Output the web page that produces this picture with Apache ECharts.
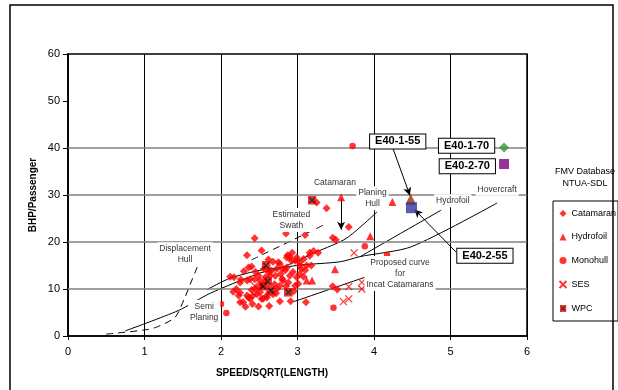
<!DOCTYPE html>
<html><head><meta charset="utf-8">
<script src="https://cdn.jsdelivr.net/npm/echarts@6/dist/echarts.min.js"></script>
<style>html,body{margin:0;padding:0;background:#fff}#c{width:618px;height:390px}</style>
</head><body><div id="c"></div>
<script>
// ---- data ----
const xTicks = [0,1,2,3,4,5,6];
const yTicks = [0,10,20,30,40,50,60];
const hGrid = [10,20,30,40];
const legendNames = ['Catamaran','Hydrofoil','Monohull','SES','WPC'];
const catamaran = [
[3.25,28.4],[3.38,27.2],[3.67,23.2],[2.85,21.8],[3.10,21.5],[2.44,20.8],[3.46,20.9],[3.50,20.5],[2.53,18.2],[2.34,17.2],
[2.87,17.2],[2.90,16.8],[2.93,17.7],[3.16,17.7],[3.27,17.7],[3.21,18.1],[3.16,17.1],[3.03,15.7],[3.08,16.4],[3.18,15.0],
[3.12,15.0],[2.40,14.8],[2.36,14.6],[2.49,12.8],[2.51,11.8],[2.71,12.8],[2.73,14.3],[2.75,15.7],[2.77,15.3],[2.86,16.7],
[2.92,16.0],[2.97,16.0],[2.99,16.7],[3.03,15.0],[3.05,14.3],[2.81,14.3],[2.86,14.6],[2.80,12.2],[2.81,11.8],[2.90,12.8],
[2.94,13.6],[2.99,12.5],[3.03,13.2],[2.62,13.6],[2.66,13.9],[2.58,12.5],[2.64,12.8],[2.49,10.4],[2.51,9.3],[2.60,8.2],
[2.53,7.9],[2.73,10.0],[2.77,10.7],[2.85,10.6],[2.97,10.7],[3.01,11.1],[2.42,8.6],[2.36,8.2],[2.23,8.6],[2.25,9.2],
[2.12,12.6],[2.17,12.5],[2.26,12.0],[2.25,11.4],[2.16,9.4],[2.20,10.0],[2.25,7.2],[2.29,7.2],[2.32,6.2],[2.41,6.8],
[2.34,11.8],[2.38,12.1],[2.44,12.1],[2.34,8.6],[2.38,7.9],[2.47,8.9],[2.49,6.3],[2.63,6.4],[2.55,7.9],[2.60,8.6],
[2.77,7.4],[2.91,7.4],[3.11,7.2],[3.46,10.6],[3.52,9.9],[2.84,14.0],[2.70,11.0],[2.95,9.5],[2.45,13.6],[2.30,13.8],
[2.56,14.3],[2.68,15.8],[2.62,16.3],[2.78,13.2],[2.88,11.4],[3.08,12.6],[3.10,14.0],[2.68,8.9],[2.72,9.1],[2.45,10.0],
[2.40,9.8],[2.55,11.0]
];
const monohull = [[3.72,40.4],[2.00,6.8],[2.07,4.9],[3.47,6.0],[3.88,19.1],[4.17,17.3]];
const hydrofoil = [[3.57,29.5],[4.24,28.5],[3.95,21.2],[3.49,14.2],[3.12,11.8],[3.19,11.8]];
const ses = [[3.74,17.7],[3.67,10.5],[3.84,11.4],[3.84,10.0],[3.60,7.3],[3.67,7.9],[2.44,10.7]];
const wpc = [[3.19,28.9],[2.59,15.0],[2.55,10.6],[2.61,11.6],[2.65,9.7],[2.88,9.3]];
const e40_1_55 = [[4.48,29.1]];
const e40_2_55 = [[4.49,27.3]];
const e40_1_70 = [[5.70,40.1]];
const e40_2_70 = [[5.70,36.6]];
// regime curves
const displacementCurve = [[0.50,0.4],[1.01,1.3],[1.16,1.9],[1.40,4.0],[1.53,8.3],[1.62,11.9],[1.69,14.7]];
const planingCurve = [[0.75,1.1],[1.44,5.4],[1.86,9.1],[2.51,13.4],[2.77,14.4],[3.25,17.9],[3.64,20.8],[4.04,26.4]];
const hovercraftCurve = [[1.82,9.9],[2.12,12.3],[2.51,14.0],[2.86,14.7],[3.03,15.1],[3.56,15.8],[3.82,16.9],[4.49,19.0],[5.61,28.3]];
const hydrofoilCurve = [[3.82,16.9],[4.88,26.8]];
const incatCurve = [[2.95,7.3],[3.97,13.0]];
const swathCurve = [[2.40,16.2],[3.34,23.6]];
// arrows [from, to]
const arrows = [
  [[3.57,29.3],[3.57,22.6]],
  [[4.25,39.8],[4.47,29.9]],
  [[5.07,17.9],[4.53,26.9]]
];
// annotation texts [text, x, y]
const notes = [
  ['Catamaran',3.49,32.6],
  ['Planing\nHull',3.98,29.3],
  ['Estimated\nSwath',2.92,24.7],
  ['Displacement\nHull',1.53,17.4],
  ['Semi\nPlaning',1.78,5.1],
  ['Hydrofoil',5.03,28.8],
  ['Hovercraft',5.61,31.2],
  ['Proposed curve\nfor\nIncat Catamarans',4.34,13.3]
];
const boxes = [
  ['E40-1-55',4.31,41.4],
  ['E40-1-70',5.21,40.5],
  ['E40-2-70',5.22,36.1],
  ['E40-2-55',5.45,17.1]
];

const F = '"Liberation Sans", Arial, sans-serif';
const chart = echarts.init(document.getElementById('c'));
const xSym = 'path://M0,0L10,10M10,0L0,10';
const wpcSym = 'image://data:image/svg+xml;charset=utf-8,' + encodeURIComponent(
 '<svg xmlns="http://www.w3.org/2000/svg" width="20" height="20"><rect width="20" height="20" fill="#ff0000"/><path d="M4,4L16,16M16,4L4,16" stroke="#000" stroke-width="3.5"/></svg>');

function curve(name, data, dashed, extra){
  return Object.assign({name, type:'line', data, symbol:'none', smooth:0.25, silent:true, z:2,
    lineStyle:{color:'#000', width:1, type: dashed ? [7,5] : 'solid'}}, extra||{});
}
function pts(name, data, symbol, size, style, z){
  return {name, type:'scatter', data, symbol, symbolSize:size, itemStyle:style, z:z||5, silent:true};
}

const series = [
  curve('planing', planingCurve, false, {markLine:{silent:true, symbol:['none','none'], label:{show:false},
     lineStyle:{color:'#808080', width:1.5, type:'solid'}, data: hGrid.map(v=>({yAxis:v}))}, z:1}),
  curve('displacement', displacementCurve, true),
  curve('hovercraft', hovercraftCurve, false),
  curve('hydrofoilC', hydrofoilCurve, false),
  curve('incat', incatCurve, false),
  curve('swath', swathCurve, true),
  {name:'arrows', type:'line', data:[], silent:true, z:6,
   markLine:{silent:true, symbol:['none','arrow'], symbolSize:[6,8], label:{show:false},
     lineStyle:{color:'#000', width:1, type:'solid'},
     data: arrows.map(a=>[{coord:a[0]},{coord:a[1]}])}},
  pts('Catamaran', catamaran, 'diamond', 8, {color:'#ff0000'}),
  pts('Hydrofoil', hydrofoil, 'triangle', 8, {color:'#ff0000'}),
  pts('Monohull', monohull, 'circle', 6.5, {color:'#ff0000'}),
  pts('SES', ses, xSym, 7, {color:'none', borderColor:'#ff0000', borderWidth:1.2}),
  pts('WPC', wpc, wpcSym, 9, {}),
  pts('E40-1-55', e40_1_55, 'triangle', 11, {color:'#993300'}, 7),
  pts('E40-2-55', e40_2_55, 'rect', 11, {color:'#333399'}, 7),
  pts('E40-1-70', e40_1_70, 'diamond', 10, {color:'#339933'}, 7),
  pts('E40-2-70', e40_2_70, 'rect', 10, {color:'#800080'}, 7)
];

chart.setOption({
  animation:false,
  backgroundColor:'#fff',
  grid:{left:68, top:54, width:459, height:282, show:true, borderColor:'#000', borderWidth:1.5, backgroundColor:'transparent'},
  xAxis:{type:'value', min:xTicks[0], max:xTicks[xTicks.length-1], interval:1,
    axisLine:{lineStyle:{color:'#000', width:1.5}},
    axisTick:{show:true, length:4, lineStyle:{color:'#000'}},
    axisLabel:{fontSize:11, color:'#000', fontFamily:F, margin:10},
    splitLine:{show:true, lineStyle:{color:'#000', width:1}}},
  yAxis:{type:'value', min:yTicks[0], max:yTicks[yTicks.length-1], interval:10,
    axisLine:{lineStyle:{color:'#000', width:1.5}},
    axisTick:{show:true, length:5, lineStyle:{color:'#000'}},
    axisLabel:{fontSize:11, color:'#000', fontFamily:F, margin:8},
    splitLine:{show:false}},
  legend:{data:legendNames, orient:'vertical', left:553, top:201,
    borderColor:'#000', borderWidth:1, padding:[7,2,7,4], itemWidth:7, itemHeight:7, itemGap:12.5, itemTextGap:2,
    textStyle:{fontSize:9, fontFamily:F, color:'#000', lineHeight:11}, selectedMode:false},
  series
});

const P = p => chart.convertToPixel({gridIndex:0}, p);
const graphic = [
  {type:'rect', shape:{x:10, y:5, width:603, height:395}, style:{fill:'none', stroke:'#000', lineWidth:1.5}, z:0, silent:true},
  {type:'text', x:33, y:195, rotation:Math.PI/2, style:{text:'BHP/Passenger', font:'bold 10px '+F, fill:'#000', align:'center', verticalAlign:'middle'}, z:10},
  {type:'text', x:272, y:373, style:{text:'SPEED/SQRT(LENGTH)', font:'bold 10px '+F, fill:'#000', align:'center', verticalAlign:'middle'}, z:10},
  {type:'text', x:585, y:177.5, style:{text:'FMV Database\nNTUA-SDL', font:'9px '+F, fill:'#000', align:'center', verticalAlign:'middle', lineHeight:12}, z:10}
];
notes.forEach(n=>{
  const p = P([n[1],n[2]]);
  graphic.push({type:'text', x:p[0], y:p[1], z:20, silent:true,
    style:{text:n[0], font:'8.5px '+F, fill:'#333', align:'center', verticalAlign:'middle', lineHeight:11,
      backgroundColor:'#fff', padding:[1,2]}});
});
boxes.forEach(b=>{
  const p = P([b[1],b[2]]);
  graphic.push({type:'text', x:p[0], y:p[1], z:20, silent:true,
    style:{text:b[0], font:'bold 11px '+F, fill:'#000', align:'center', verticalAlign:'middle',
      backgroundColor:'#fff', borderColor:'#000', borderWidth:1, padding:[2,5,1,5]}});
});
chart.setOption({graphic});
</script>
</body></html>
